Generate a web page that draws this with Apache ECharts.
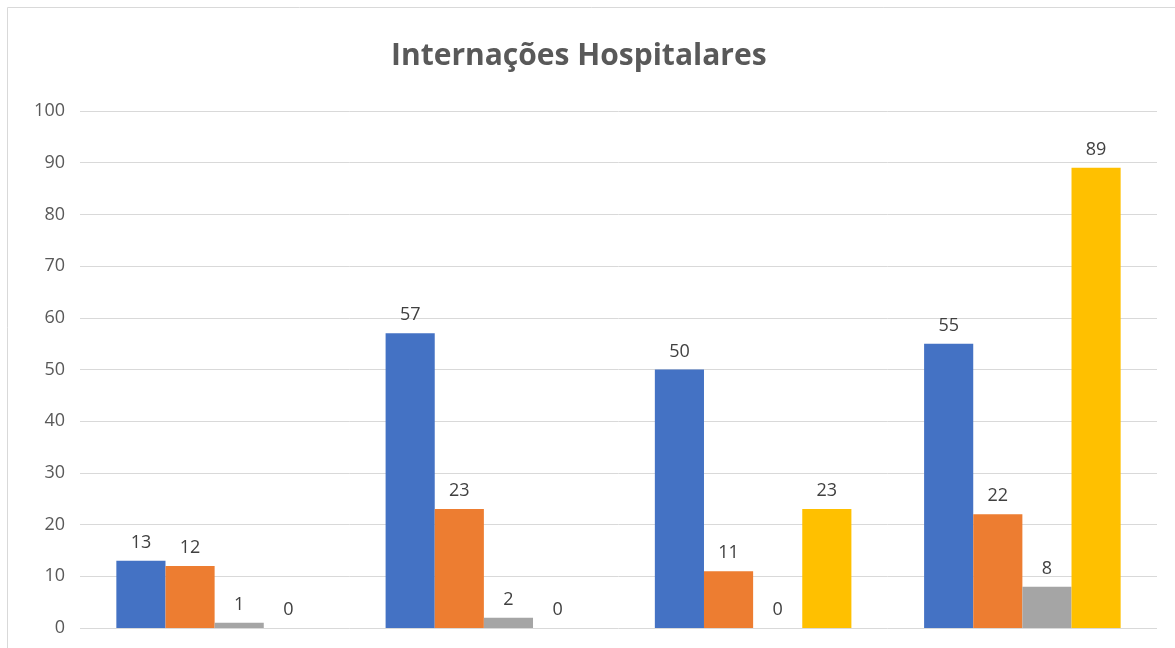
<!DOCTYPE html>
<html>
<head>
<meta charset="utf-8">
<script src="https://cdn.jsdelivr.net/npm/echarts@6/dist/echarts.min.js"></script>
<style>
  html, body { margin: 0; padding: 0; background: #fff; }
  #main { width: 1175px; height: 648px; }
</style>
</head>
<body>
<div id="main"></div>
<script>
// dados
var categorias = ['Grupo 1', 'Grupo 2', 'Grupo 3', 'Grupo 4'];
var serie1 = [13, 57, 50, 55];
var serie2 = [12, 23, 11, 22];
var serie3 = [1, 2, 0, 8];
var serie4 = [0, 0, 23, 89];
var nomes = ['Série 1', 'Série 2', 'Série 3', 'Série 4'];
var cores = ['#4472C4', '#ED7D31', '#A5A5A5', '#FFC000'];

var myChart = echarts.init(document.getElementById('main'));

var rotulo = {
  show: true,
  position: 'top',
  distance: 9,
  color: '#404040',
  fontSize: 18,
  fontFamily: 'Open Sans'
};

function serie(i, dados) {
  return {
    name: nomes[i],
    type: 'bar',
    data: dados,
    barGap: '0%',
    barCategoryGap: '27%',
    itemStyle: { color: cores[i] },
    label: rotulo
  };
}

myChart.setOption({
  animation: false,
  title: {
    text: 'Internações Hospitalares',
    left: 386,
    top: 36,
    textStyle: {
      color: '#595959',
      fontSize: 30,
      fontWeight: 'bold',
      fontFamily: 'Open Sans'
    }
  },
  graphic: [
    {
      type: 'polyline',
      shape: { points: [[7.5, 648], [7.5, 7.5], [1175, 7.5]] },
      style: { stroke: '#D9D9D9', lineWidth: 1, fill: null }
    }
  ],
  grid: {
    left: 80,
    right: 18,
    top: 111,
    bottom: 20
  },
  xAxis: {
    type: 'category',
    data: categorias,
    axisLine: { show: false },
    axisTick: { show: false },
    axisLabel: { show: false }
  },
  yAxis: {
    type: 'value',
    min: 0,
    max: 100,
    interval: 10,
    axisLine: { show: false },
    axisTick: { show: false },
    axisLabel: {
      color: '#595959',
      fontSize: 18,
      fontFamily: 'Open Sans',
      margin: 15
    },
    splitLine: { lineStyle: { color: '#D9D9D9', width: 1 } }
  },
  series: [
    serie(0, serie1),
    serie(1, serie2),
    serie(2, serie3),
    serie(3, serie4)
  ]
});
</script>
</body>
</html>
